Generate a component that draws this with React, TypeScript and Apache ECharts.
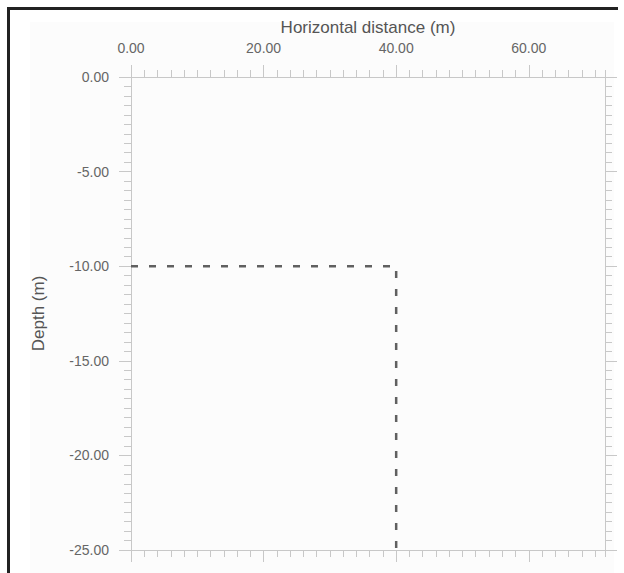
import React, { useEffect, useRef } from "react";
import * as echarts from "echarts";

// ---- data ----
const xMajorTicks = [0, 20, 40, 60];
const depthMajorTicks = [0, -5, -10, -15, -20, -25];
const profileDistance = [0, 40, 40];
const profileDepth = [-10, -10, -25];

const X_MIN = 0;
const X_MAX = 71.5;
const X_MAJOR = 20;
const X_MINOR = 2;
const Y_MIN = -25;
const Y_MAX = 0;
const Y_MAJOR = 5;
const Y_MINOR = 0.5;

const FONT = "'Liberation Sans', Arial, sans-serif";
const AXIS_COLOR = "#c8c8c8";
const LABEL_COLOR = "#666";

function fmt(v: number) {
  return Number(v).toFixed(2);
}

function xAxisDef(position: "top" | "bottom", major: boolean, extra: any = {}) {
  return {
    type: "value",
    position,
    min: X_MIN,
    max: X_MAX,
    interval: major ? X_MAJOR : X_MINOR,
    axisLine: { show: major, onZero: false, lineStyle: { color: AXIS_COLOR, width: 1 } },
    axisTick: {
      show: true,
      inside: false,
      length: major ? 12 : 7,
      lineStyle: { color: AXIS_COLOR, width: 1 },
      ...(major ? { customValues: xMajorTicks } : {}),
    },
    axisLabel: { show: false },
    splitLine: { show: false },
    ...extra,
  };
}

function yAxisDef(position: "left" | "right", major: boolean, extra: any = {}) {
  return {
    type: "value",
    position,
    min: Y_MIN,
    max: Y_MAX,
    interval: major ? Y_MAJOR : Y_MINOR,
    axisLine: { show: major, onZero: false, lineStyle: { color: AXIS_COLOR, width: 1 } },
    axisTick: {
      show: true,
      inside: false,
      length: major ? 12 : 7,
      lineStyle: { color: AXIS_COLOR, width: 1 },
    },
    axisLabel: { show: false },
    splitLine: { show: false },
    ...extra,
  };
}

export default function App() {
  const ref = useRef<HTMLDivElement>(null);

  useEffect(() => {
    if (!ref.current) return;
    const chart = echarts.init(ref.current, undefined, { renderer: "svg" });
    chart.setOption({
      animation: false,
      backgroundColor: "transparent",
      grid: { left: 131, top: 77, width: 474, height: 473, containLabel: false },
      xAxis: [
        xAxisDef("top", true, {
          name: "Horizontal distance (m)",
          nameLocation: "middle",
          nameGap: 39,
          nameTextStyle: { fontFamily: FONT, fontSize: 17, color: "#555" },
          axisLabel: {
            show: true,
            margin: 22,
            fontFamily: FONT,
            fontSize: 14,
            color: LABEL_COLOR,
            customValues: xMajorTicks,
            formatter: (v: number) => fmt(v),
          },
        }),
        xAxisDef("top", false),
        xAxisDef("bottom", true),
        xAxisDef("bottom", false),
      ],
      yAxis: [
        yAxisDef("left", true, {
          name: "Depth (m)",
          nameLocation: "middle",
          nameGap: 84,
          nameRotate: 90,
          nameTextStyle: { fontFamily: FONT, fontSize: 17, color: "#555" },
          axisLabel: {
            show: true,
            margin: 22,
            fontFamily: FONT,
            fontSize: 14,
            color: LABEL_COLOR,
            customValues: depthMajorTicks,
            formatter: (v: number) => fmt(v),
          },
        }),
        yAxisDef("left", false),
        yAxisDef("right", true),
        yAxisDef("right", false),
      ],
      series: [
        {
          type: "line",
          xAxisIndex: 0,
          yAxisIndex: 0,
          data: profileDistance.map((x, i) => [x, profileDepth[i]]),
          symbol: "none",
          lineStyle: { color: "#606060", width: 2.5, type: [7, 11] },
        },
      ],
    });
    return () => chart.dispose();
  }, []);

  return (
    <div
      style={{
        position: "fixed",
        left: 0,
        top: 0,
        width: 624,
        height: 573,
        background: "#fff",
        overflow: "hidden",
      }}
    >
      <div
        style={{
          position: "absolute",
          left: 7,
          top: 7,
          width: 611,
          height: 600,
          borderTop: "3px solid #222",
          borderLeft: "3px solid #222",
          boxSizing: "border-box",
        }}
      />
      <div
        style={{
          position: "absolute",
          left: 30,
          top: 22,
          width: 584,
          height: 551,
          background: "#fcfcfc",
        }}
      />
      <div ref={ref} style={{ position: "absolute", left: 0, top: 0, width: 624, height: 573 }} />
    </div>
  );
}
